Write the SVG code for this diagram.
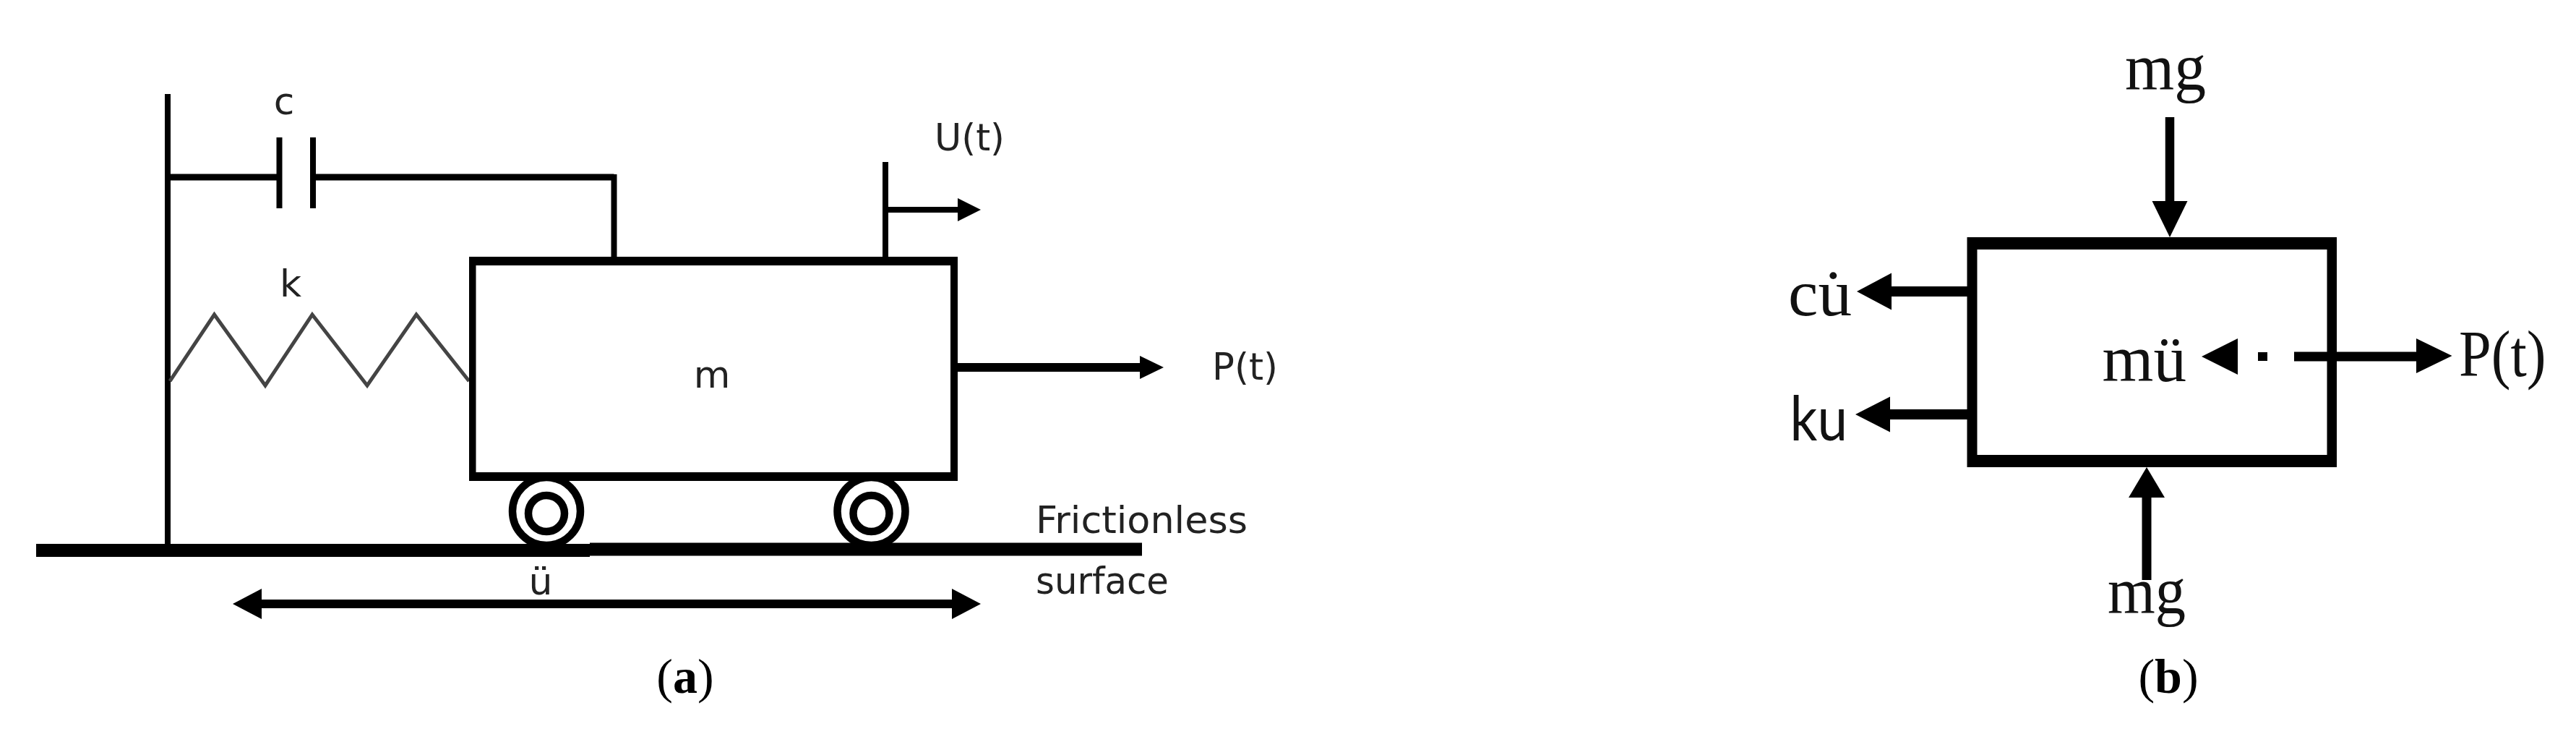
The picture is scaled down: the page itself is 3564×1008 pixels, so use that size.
<svg xmlns="http://www.w3.org/2000/svg" width="3564" height="1008" viewBox="0 0 3564 1008">
<style>
.ln{stroke:#000;fill:none;stroke-linecap:butt}
.hd{fill:#000;stroke:none}
.frame{fill:#000;fill-rule:evenodd;stroke:none}
.a{font-family:"DejaVu Sans","Liberation Sans",sans-serif;font-size:52px;fill:#222}
.b{font-family:"Liberation Serif","Times New Roman",serif;font-size:90px;fill:#111}
.s{font-family:Lato,"Noto Sans",sans-serif;font-size:86px;fill:#111}
.cap{font-family:"Liberation Serif","Times New Roman",serif;font-size:68px;fill:#000}
.cap tspan{font-weight:bold}
</style>
<rect width="3564" height="1008" fill="#fff"/>
<g id="connectors">
<line class="ln" x1="232" y1="130" x2="232" y2="756" stroke-width="8"/>
<path class="ln" d="M232 245H386M433 245H849.500" stroke-width="9"/>
<line class="ln" x1="849.500" y1="241" x2="849.500" y2="358" stroke-width="8"/>
<line class="ln" x1="386.500" y1="190" x2="386.500" y2="288" stroke-width="8"/>
<line class="ln" x1="433" y1="190" x2="433" y2="288" stroke-width="8"/>
<path id="spring" d="M235 527L296.500 435L367 533L432 435L508 533L576 435L649 527" fill="none" stroke="#444" stroke-width="5"/>
<line class="ln" x1="1225" y1="224" x2="1225" y2="358" stroke-width="8"/>
<line class="ln" x1="1225" y1="290" x2="1330" y2="290" stroke-width="8"/>
<polygon class="hd" points="1357,290 1325,274 1325,306"/>
<line class="ln" x1="1320" y1="508" x2="1580" y2="508" stroke-width="12"/>
<polygon class="hd" points="1610,508 1577,492 1577,524"/>
<line class="ln" x1="50" y1="761" x2="816" y2="761" stroke-width="18"/>
<line class="ln" x1="816" y1="759.500" x2="1580" y2="759.500" stroke-width="18"/>
<line class="ln" x1="360" y1="835" x2="1320" y2="835" stroke-width="12"/>
<polygon class="hd" points="322,835 362,814 362,856"/>
<polygon class="hd" points="1357,835 1317,814 1317,856"/>
<line class="ln" x1="3002" y1="162" x2="3002" y2="280" stroke-width="12.500"/>
<polygon class="hd" points="3002,328 2977.500,278 3026.500,278"/>
<line class="ln" x1="2970" y1="686" x2="2970" y2="802" stroke-width="13"/>
<polygon class="hd" points="2970,646 2945,688 2995,688"/>
<line class="ln" x1="2722" y1="403" x2="2615" y2="403" stroke-width="14"/>
<polygon class="hd" points="2569,403 2617,377.500 2617,428.500"/>
<line class="ln" x1="2722" y1="573" x2="2613" y2="573" stroke-width="14"/>
<polygon class="hd" points="2567,573 2615,548.500 2615,597.500"/>
<polygon class="hd" points="3046,493 3096,468 3096,518"/>
<rect class="hd" x="3124" y="487" width="13" height="12"/>
<line class="ln" x1="3174" y1="493" x2="3345" y2="493" stroke-width="13"/>
<polygon class="hd" points="3392.500,492 3343,468 3343,516"/>
</g>
<g id="cart-mass"><path class="frame" d="M649 355H1325V665H649ZM658.500 367V653H1315V367Z"/><text class="a" x="985" y="536" text-anchor="middle">m</text></g>
<g id="wheel-left"><circle class="ln" cx="756" cy="707" r="47" stroke-width="10.500"/><circle class="ln" cx="756" cy="710" r="25" stroke-width="10.500"/></g>
<g id="wheel-right"><circle class="ln" cx="1205.500" cy="707" r="47" stroke-width="10.500"/><circle class="ln" cx="1205.500" cy="710" r="25" stroke-width="10.500"/></g>
<g id="label-c"><text class="a" x="393" y="158" text-anchor="middle">c</text></g>
<g id="label-k"><text class="a" x="402" y="410" text-anchor="middle">k</text></g>
<g id="label-ut"><text class="a" x="1293" y="208" textLength="97" lengthAdjust="spacingAndGlyphs">U(t)</text></g>
<g id="label-pt"><text class="a" x="1677" y="525" textLength="91" lengthAdjust="spacingAndGlyphs">P(t)</text></g>
<g id="label-friction"><text class="a" x="1433" y="737" textLength="293" lengthAdjust="spacingAndGlyphs">Frictionless</text><text class="a" x="1433" y="821" textLength="184" lengthAdjust="spacingAndGlyphs">surface</text></g>
<g id="label-udd"><text class="a" x="748" y="822" text-anchor="middle">ü</text></g>
<g id="caption-a"><text class="cap" x="948" y="958" text-anchor="middle">(<tspan>a</tspan>)</text></g>
<g id="free-body"><path class="frame" d="M2721.500 328H3233V646H2721.500ZM2735.500 345V629H3219.500V345Z"/><text class="b" x="2908.500" y="527" textLength="116.500" lengthAdjust="spacingAndGlyphs">mü</text></g>
<g id="label-mg-top"><text class="b" x="2940" y="124" textLength="112" lengthAdjust="spacingAndGlyphs">mg</text></g>
<g id="label-mg-bottom"><text class="b" x="2916" y="848" textLength="108" lengthAdjust="spacingAndGlyphs">mg</text></g>
<g id="label-cu"><text class="b" x="2474" y="436" textLength="88" lengthAdjust="spacingAndGlyphs">cu̇</text></g>
<g id="label-ku"><text class="s" x="2476.500" y="609" textLength="79.500" lengthAdjust="spacingAndGlyphs">ku</text></g>
<g id="label-pt-b"><text class="b" x="3402" y="520" textLength="120.500" lengthAdjust="spacingAndGlyphs">P(t)</text></g>
<g id="caption-b"><text class="cap" x="3000" y="958" text-anchor="middle">(<tspan>b</tspan>)</text></g>
</svg>
